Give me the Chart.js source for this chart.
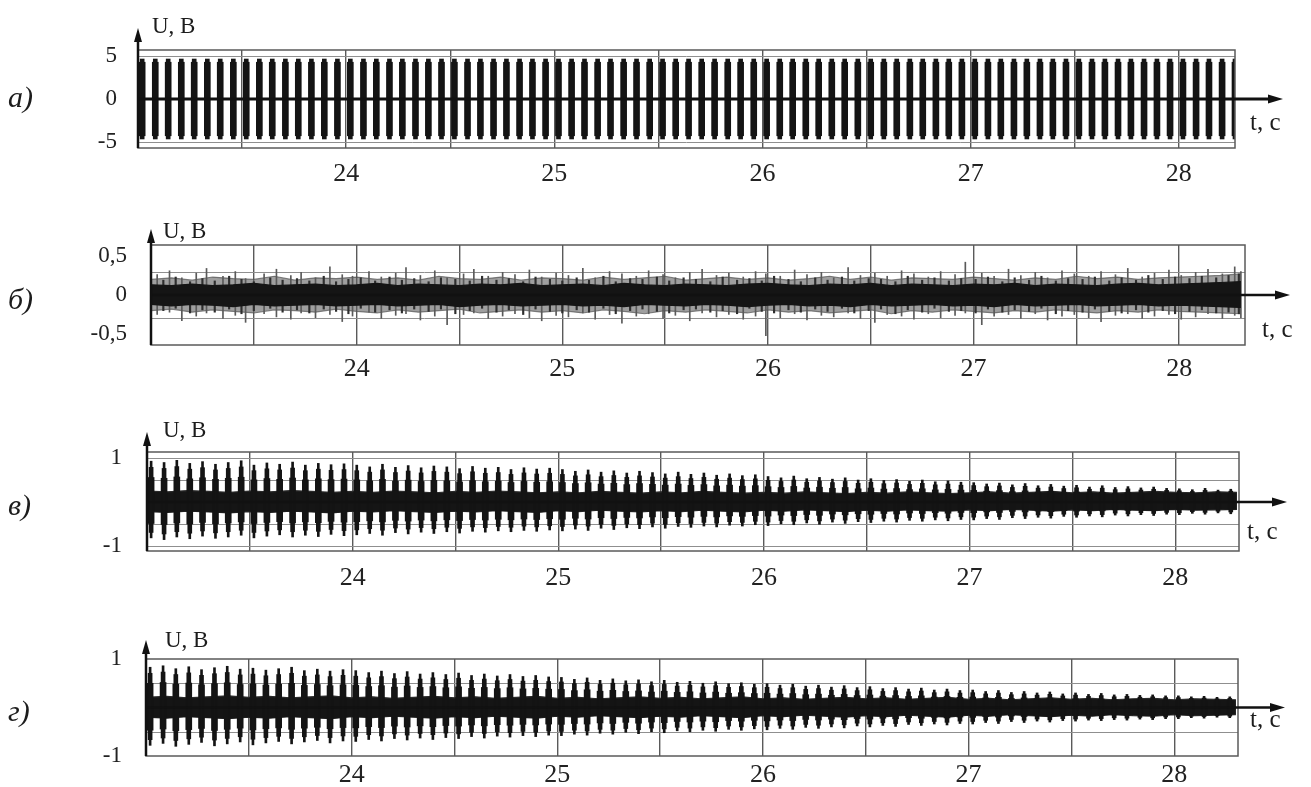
<!DOCTYPE html>
<html><head><meta charset="utf-8">
<script src="https://cdn.jsdelivr.net/npm/chart.js@4.4.1/dist/chart.umd.min.js"></script>
<style>
html,body{margin:0;padding:0;background:#fff;}
body{width:1311px;height:787px;position:relative;overflow:hidden;}
canvas{position:absolute;left:0;}
</style></head><body>
<canvas id="ca" width="1311" height="200" style="top:0px"></canvas>
<canvas id="cb" width="1311" height="200" style="top:200px"></canvas>
<canvas id="cc" width="1311" height="200" style="top:400px"></canvas>
<canvas id="cd" width="1311" height="187" style="top:600px"></canvas>
<script>
// ---------- text / ticks ----------
const xTickLabels = [24, 25, 26, 27, 28];
const xGridT = [23, 23.5, 24, 24.5, 25, 25.5, 26, 26.5, 27, 27.5, 28];
const panelLetters = ['а)', 'б)', 'в)', 'г)'];
const axisUnitY = 'U, B';
const axisUnitX = 't, c';
const yTicksA = [-5, 0, 5];     const gridYA = [-5, 5];
const yTicksB = [-0.5, 0, 0.5]; const gridYB = [-0.3, 0.3];
const yTicksC = [-1, 1];        const gridYC = [-1, -0.5, 0.5, 1];
const yTicksD = [-1, 1];        const gridYD = [-0.5, 0.5];

// ---------- burst times (s) ----------
const burstT = [
23.020,23.083,23.145,23.208,23.270,23.333,23.395,23.458,23.520,23.583,23.645,23.708,23.770,23.833,23.895,23.958,
24.020,24.083,24.145,24.208,24.270,24.333,24.395,24.458,24.520,24.583,24.645,24.708,24.770,24.833,24.895,24.958,
25.020,25.083,25.145,25.208,25.270,25.333,25.395,25.458,25.520,25.583,25.645,25.708,25.770,25.833,25.895,25.958,
26.020,26.083,26.145,26.208,26.270,26.333,26.395,26.458,26.520,26.583,26.645,26.708,26.770,26.833,26.895,26.958,
27.020,27.083,27.145,27.208,27.270,27.333,27.395,27.458,27.520,27.583,27.645,27.708,27.770,27.833,27.895,27.958,
28.020,28.083,28.145,28.208,28.270];

// panel a: burst amplitude (V)
const ampA = [
4.65,4.65,4.65,4.65,4.65,4.65,4.65,4.65,4.65,4.65,4.65,4.65,4.65,4.65,4.65,4.65,
4.65,4.65,4.65,4.65,4.65,4.65,4.65,4.65,4.65,4.65,4.65,4.65,4.65,4.65,4.65,4.65,
4.65,4.65,4.65,4.65,4.65,4.65,4.65,4.65,4.65,4.65,4.65,4.65,4.65,4.65,4.65,4.65,
4.65,4.65,4.65,4.65,4.65,4.65,4.65,4.65,4.65,4.65,4.65,4.65,4.65,4.65,4.65,4.65,
4.65,4.65,4.65,4.65,4.65,4.65,4.65,4.65,4.65,4.65,4.65,4.65,4.65,4.65,4.65,4.65,
4.65,4.65,4.65,4.65,4.65];

// panel c: burst max / min (V)
const hiC = [
0.93,0.90,0.95,0.88,0.92,0.86,0.90,0.94,0.84,0.89,0.86,0.91,0.84,0.88,0.85,0.87,
0.84,0.80,0.86,0.79,0.83,0.78,0.82,0.80,0.76,0.81,0.77,0.79,0.74,0.78,0.75,0.77,
0.74,0.70,0.73,0.68,0.71,0.66,0.70,0.67,0.64,0.68,0.63,0.66,0.61,0.64,0.60,0.62,
0.58,0.55,0.59,0.53,0.56,0.52,0.55,0.50,0.53,0.49,0.51,0.47,0.50,0.46,0.48,0.45,
0.44,0.41,0.43,0.39,0.42,0.37,0.40,0.36,0.38,0.34,0.37,0.33,0.35,0.32,0.34,0.31,
0.30,0.28,0.31,0.27,0.29];
const loC = [
-0.82,-0.86,-0.80,-0.84,-0.78,-0.83,-0.80,-0.76,-0.82,-0.78,-0.75,-0.80,-0.76,-0.79,-0.74,-0.77,
-0.75,-0.72,-0.76,-0.70,-0.73,-0.69,-0.72,-0.68,-0.71,-0.67,-0.69,-0.66,-0.68,-0.65,-0.67,-0.64,
-0.66,-0.62,-0.65,-0.60,-0.63,-0.59,-0.61,-0.57,-0.60,-0.56,-0.58,-0.55,-0.57,-0.53,-0.55,-0.52,
-0.54,-0.50,-0.52,-0.48,-0.51,-0.46,-0.49,-0.45,-0.47,-0.44,-0.46,-0.42,-0.44,-0.41,-0.43,-0.40,
-0.41,-0.38,-0.40,-0.36,-0.38,-0.35,-0.37,-0.33,-0.35,-0.32,-0.34,-0.30,-0.32,-0.29,-0.31,-0.28,
-0.29,-0.26,-0.28,-0.25,-0.27];

// panel d: burst max / min (V)
const hiD = [
0.83,0.86,0.80,0.84,0.78,0.82,0.85,0.79,0.81,0.77,0.80,0.83,0.76,0.79,0.75,0.78,
0.76,0.72,0.75,0.70,0.74,0.69,0.72,0.68,0.71,0.66,0.69,0.65,0.68,0.64,0.66,0.63,
0.62,0.58,0.61,0.56,0.59,0.55,0.57,0.53,0.56,0.52,0.54,0.50,0.53,0.49,0.51,0.48,
0.49,0.46,0.48,0.44,0.46,0.42,0.45,0.41,0.43,0.39,0.41,0.38,0.40,0.36,0.38,0.35,
0.36,0.33,0.35,0.31,0.33,0.30,0.32,0.28,0.30,0.27,0.29,0.26,0.27,0.25,0.26,0.24,
0.24,0.22,0.23,0.21,0.22];
const loD = [
-0.78,-0.74,-0.80,-0.76,-0.72,-0.79,-0.75,-0.71,-0.77,-0.73,-0.70,-0.75,-0.71,-0.68,-0.73,-0.69,
-0.70,-0.66,-0.69,-0.64,-0.67,-0.63,-0.66,-0.62,-0.64,-0.60,-0.63,-0.59,-0.61,-0.58,-0.60,-0.57,
-0.58,-0.55,-0.57,-0.53,-0.55,-0.51,-0.54,-0.50,-0.52,-0.48,-0.50,-0.47,-0.49,-0.45,-0.47,-0.44,
-0.46,-0.43,-0.45,-0.41,-0.43,-0.40,-0.42,-0.38,-0.40,-0.37,-0.39,-0.35,-0.37,-0.34,-0.36,-0.33,
-0.34,-0.31,-0.33,-0.29,-0.31,-0.28,-0.30,-0.27,-0.28,-0.26,-0.27,-0.25,-0.26,-0.24,-0.25,-0.23,
-0.23,-0.21,-0.22,-0.20,-0.21];

// ---------- noise envelopes, every 0.1 s ----------
const envT = [
23.0,23.1,23.2,23.3,23.4,23.5,23.6,23.7,23.8,23.9,
24.0,24.1,24.2,24.3,24.4,24.5,24.6,24.7,24.8,24.9,
25.0,25.1,25.2,25.3,25.4,25.5,25.6,25.7,25.8,25.9,
26.0,26.1,26.2,26.3,26.4,26.5,26.6,26.7,26.8,26.9,
27.0,27.1,27.2,27.3,27.4,27.5,27.6,27.7,27.8,27.9,
28.0,28.1,28.2,28.3];
const coreUpB = [
0.13,0.12,0.14,0.12,0.13,0.15,0.12,0.13,0.14,0.12,
0.13,0.15,0.12,0.14,0.13,0.12,0.14,0.13,0.15,0.12,
0.13,0.14,0.12,0.15,0.13,0.12,0.14,0.13,0.12,0.14,
0.15,0.13,0.12,0.14,0.13,0.15,0.12,0.14,0.13,0.12,
0.14,0.13,0.15,0.12,0.14,0.13,0.12,0.14,0.15,0.13,
0.14,0.15,0.16,0.17];
const coreDnB = [
-0.12,-0.14,-0.12,-0.13,-0.15,-0.12,-0.14,-0.13,-0.12,-0.14,
-0.13,-0.12,-0.14,-0.13,-0.12,-0.15,-0.13,-0.12,-0.14,-0.13,
-0.12,-0.14,-0.13,-0.15,-0.12,-0.13,-0.14,-0.12,-0.13,-0.15,
-0.13,-0.12,-0.14,-0.13,-0.15,-0.12,-0.14,-0.13,-0.12,-0.14,
-0.13,-0.15,-0.12,-0.14,-0.13,-0.12,-0.14,-0.13,-0.12,-0.14,
-0.13,-0.14,-0.15,-0.16];
const fringeUpB = [
0.20,0.22,0.19,0.23,0.21,0.20,0.24,0.19,0.22,0.21,
0.23,0.20,0.22,0.19,0.24,0.21,0.20,0.23,0.19,0.22,
0.21,0.19,0.23,0.20,0.22,0.24,0.19,0.21,0.23,0.20,
0.22,0.19,0.21,0.24,0.20,0.23,0.19,0.22,0.21,0.20,
0.23,0.21,0.19,0.22,0.20,0.24,0.21,0.23,0.20,0.22,
0.23,0.24,0.25,0.27];
const fringeDnB = [
-0.20,-0.18,-0.22,-0.19,-0.21,-0.23,-0.19,-0.20,-0.22,-0.18,
-0.21,-0.23,-0.19,-0.22,-0.20,-0.18,-0.23,-0.21,-0.19,-0.22,
-0.20,-0.23,-0.19,-0.21,-0.24,-0.20,-0.22,-0.19,-0.21,-0.23,
-0.19,-0.22,-0.20,-0.23,-0.21,-0.19,-0.24,-0.20,-0.22,-0.19,
-0.21,-0.23,-0.20,-0.22,-0.19,-0.21,-0.23,-0.20,-0.22,-0.19,
-0.21,-0.22,-0.23,-0.24];
const coreUpC = [
0.25,0.23,0.26,0.24,0.22,0.25,0.23,0.26,0.24,0.22,
0.24,0.22,0.25,0.23,0.21,0.24,0.22,0.25,0.23,0.21,
0.23,0.21,0.24,0.22,0.20,0.23,0.21,0.24,0.22,0.20,
0.22,0.20,0.23,0.21,0.19,0.22,0.20,0.23,0.21,0.19,
0.21,0.23,0.20,0.22,0.24,0.21,0.23,0.20,0.22,0.24,
0.22,0.21,0.23,0.22];
const coreDnC = [
-0.22,-0.24,-0.21,-0.23,-0.25,-0.22,-0.24,-0.21,-0.23,-0.25,
-0.21,-0.23,-0.20,-0.22,-0.24,-0.21,-0.23,-0.20,-0.22,-0.24,
-0.20,-0.22,-0.19,-0.21,-0.23,-0.20,-0.22,-0.19,-0.21,-0.23,
-0.19,-0.21,-0.18,-0.20,-0.22,-0.19,-0.21,-0.18,-0.20,-0.21,
-0.18,-0.20,-0.17,-0.19,-0.21,-0.18,-0.20,-0.17,-0.19,-0.20,
-0.17,-0.19,-0.18,-0.17];
const coreUpD = [
0.21,0.23,0.20,0.22,0.24,0.21,0.23,0.20,0.22,0.24,
0.20,0.22,0.19,0.21,0.23,0.20,0.22,0.19,0.21,0.23,
0.19,0.21,0.18,0.20,0.22,0.19,0.21,0.18,0.20,0.22,
0.18,0.20,0.17,0.19,0.21,0.18,0.20,0.17,0.19,0.21,
0.17,0.19,0.16,0.18,0.20,0.17,0.19,0.16,0.18,0.19,
0.16,0.18,0.17,0.16];
const coreDnD = [
-0.20,-0.22,-0.19,-0.21,-0.23,-0.20,-0.22,-0.19,-0.21,-0.23,
-0.19,-0.21,-0.18,-0.20,-0.22,-0.19,-0.21,-0.18,-0.20,-0.22,
-0.18,-0.20,-0.17,-0.19,-0.21,-0.18,-0.20,-0.17,-0.19,-0.21,
-0.17,-0.19,-0.16,-0.18,-0.20,-0.17,-0.19,-0.16,-0.18,-0.20,
-0.16,-0.18,-0.15,-0.17,-0.19,-0.16,-0.18,-0.15,-0.17,-0.18,
-0.15,-0.17,-0.16,-0.15];

// ---------- panel b: noise spikes ----------
const spikeTB = [
23.03,23.09,23.15,23.22,23.27,23.35,23.41,23.46,23.55,23.61,
23.68,23.73,23.80,23.87,23.93,23.98,24.06,24.12,24.19,24.24,
24.31,24.38,24.44,24.52,24.57,24.64,24.71,24.77,24.84,24.90,
24.97,25.03,25.10,25.16,25.23,25.29,25.36,25.42,25.49,25.55,
25.62,25.68,25.75,25.81,25.88,25.94,25.99,26.06,26.13,26.19,
26.26,26.32,26.39,26.45,26.52,26.58,26.65,26.71,26.78,26.84,
26.91,26.96,27.04,27.10,27.17,27.23,27.30,27.36,27.43,27.49,
27.56,27.62,27.69,27.75,27.82,27.88,27.95,28.01,28.08,28.14,
28.21,28.27,28.30];
const spikeHiB = [
0.26,0.31,0.22,0.28,0.34,0.24,0.30,0.21,0.27,0.33,
0.25,0.29,0.22,0.36,0.26,0.24,0.30,0.23,0.28,0.35,
0.25,0.31,0.22,0.27,0.33,0.24,0.29,0.26,0.32,0.23,
0.28,0.25,0.34,0.22,0.30,0.27,0.24,0.31,0.26,0.22,
0.29,0.33,0.25,0.28,0.23,0.30,0.27,0.24,0.32,0.26,
0.29,0.22,0.35,0.25,0.28,0.24,0.31,0.27,0.23,0.30,
0.26,0.42,0.28,0.24,0.33,0.25,0.29,0.22,0.31,0.27,
0.24,0.30,0.26,0.34,0.23,0.28,0.32,0.25,0.29,0.33,
0.27,0.36,0.30];
const spikeLoB = [
-0.25,-0.22,-0.33,-0.27,-0.23,-0.30,-0.26,-0.35,-0.24,-0.28,
-0.31,-0.23,-0.29,-0.25,-0.34,-0.27,-0.22,-0.30,-0.26,-0.24,
-0.32,-0.27,-0.38,-0.25,-0.23,-0.30,-0.27,-0.24,-0.29,-0.33,
-0.26,-0.28,-0.23,-0.31,-0.25,-0.36,-0.27,-0.24,-0.30,-0.26,
-0.33,-0.23,-0.28,-0.25,-0.31,-0.27,-0.52,-0.29,-0.24,-0.32,
-0.26,-0.28,-0.23,-0.30,-0.35,-0.25,-0.27,-0.31,-0.24,-0.29,
-0.26,-0.23,-0.38,-0.27,-0.25,-0.30,-0.24,-0.32,-0.27,-0.25,
-0.29,-0.34,-0.26,-0.24,-0.30,-0.27,-0.25,-0.31,-0.28,-0.24,
-0.30,-0.26,-0.29];
const spikeT2B = [
23.06,23.12,23.19,23.25,23.31,23.38,23.44,23.50,23.58,23.64,
23.71,23.77,23.84,23.90,23.96,24.02,24.09,24.16,24.22,24.28,
24.35,24.41,24.48,24.55,24.61,24.68,24.74,24.81,24.87,24.94,
25.00,25.07,25.13,25.20,25.26,25.33,25.39,25.46,25.52,25.59,
25.65,25.72,25.78,25.85,25.91,25.97,26.03,26.10,26.16,26.23,
26.29,26.36,26.42,26.49,26.55,26.62,26.68,26.75,26.81,26.88,
26.94,27.01,27.07,27.14,27.20,27.27,27.33,27.40,27.46,27.53,
27.59,27.66,27.72,27.79,27.85,27.92,27.98,28.05,28.11,28.18,
28.24,28.29];
const spikeHi2B = [
0.19,0.23,0.17,0.21,0.18,0.24,0.20,0.17,0.22,0.19,
0.21,0.18,0.24,0.17,0.20,0.22,0.18,0.23,0.19,0.21,
0.17,0.22,0.20,0.18,0.24,0.19,0.21,0.17,0.23,0.20,
0.18,0.22,0.19,0.24,0.17,0.21,0.20,0.23,0.18,0.22,
0.20,0.17,0.23,0.19,0.21,0.18,0.24,0.20,0.17,0.22,
0.19,0.23,0.18,0.21,0.20,0.17,0.24,0.19,0.22,0.18,
0.21,0.20,0.23,0.17,0.22,0.19,0.24,0.18,0.21,0.20,
0.23,0.18,0.22,0.19,0.25,0.20,0.23,0.21,0.24,0.22,
0.25,0.27];
const spikeLo2B = [
-0.20,-0.17,-0.23,-0.19,-0.22,-0.18,-0.24,-0.20,-0.17,-0.22,
-0.19,-0.23,-0.18,-0.21,-0.24,-0.17,-0.22,-0.19,-0.23,-0.18,
-0.21,-0.18,-0.24,-0.20,-0.17,-0.22,-0.19,-0.25,-0.18,-0.21,
-0.23,-0.19,-0.22,-0.17,-0.24,-0.20,-0.18,-0.21,-0.23,-0.19,
-0.18,-0.22,-0.20,-0.24,-0.17,-0.21,-0.23,-0.19,-0.22,-0.18,
-0.21,-0.17,-0.23,-0.20,-0.18,-0.24,-0.19,-0.22,-0.17,-0.21,
-0.20,-0.23,-0.18,-0.22,-0.19,-0.21,-0.17,-0.24,-0.20,-0.22,
-0.18,-0.21,-0.23,-0.19,-0.22,-0.20,-0.24,-0.21,-0.19,-0.23,
-0.22,-0.24];

// ---------- layout (pixels, absolute page coords) ----------
const P = {
  a: {oy:0,   H:200, L:138, R:1235, T:50,  B:148, yMin:-5.7,  yMax:5.7,  xMax:28.27, yTicks:yTicksA, gridY:gridYA,
      arrowX:1283, arrowTop:28,  ubX:152, ubY:33,  tcX:1250, tcY:130, lX:8, lY:107, letter:panelLetters[0], ytPad:13, xtPad:11, zeroW:3},
  b: {oy:200, H:200, L:151, R:1245, T:245, B:345, yMin:-0.64, yMax:0.64, xMax:28.32, yTicks:yTicksB, gridY:gridYB,
      arrowX:1290, arrowTop:229, ubX:163, ubY:238, tcX:1262, tcY:337, lX:8, lY:309, letter:panelLetters[1], ytPad:16, xtPad:9, zeroW:2.5},
  c: {oy:400, H:200, L:147, R:1239, T:452, B:551, yMin:-1.12, yMax:1.14, xMax:28.31, yTicks:yTicksC, gridY:gridYC,
      arrowX:1287, arrowTop:432, ubX:163, ubY:437, tcX:1247, tcY:539, lX:8, lY:515, letter:panelLetters[2], ytPad:17, xtPad:12, zeroW:2.5},
  d: {oy:600, H:187, L:146, R:1238, T:659, B:756, yMin:-1,    yMax:1,    xMax:28.31, yTicks:yTicksD, gridY:gridYD,
      arrowX:1285, arrowTop:640, ubX:165, ubY:647, tcX:1250, tcY:727, lX:8, lY:721, letter:panelLetters[3], ytPad:16, xtPad:4, zeroW:2.5}
};

const SERIF = "'Liberation Serif', 'Times New Roman', serif";

function burstLayers(hi, lo, widths, scales, color) {
  return widths.map((w, k) => ({
    type: 'bar',
    data: burstT.map((t, i) => ({x: t, y: [lo[i] * scales[k], hi[i] * scales[k]]})),
    barThickness: w, backgroundColor: color, borderWidth: 0, grouped: false, order: 1 + k
  }));
}
function band(up, dn, fill, line, order) {
  return [
    {type:'line', data: envT.map((t,i)=>({x:t, y:up[i]})), borderColor: line, borderWidth: 1.2,
     pointRadius: 0, fill: '+1', backgroundColor: fill, order},
    {type:'line', data: envT.map((t,i)=>({x:t, y:dn[i]})), borderColor: line, borderWidth: 1.2,
     pointRadius: 0, fill: false, order}
  ];
}
function spikes(ts, lo, hi, color, w, order) {
  return {type:'bar', data: ts.map((t,i)=>({x:t, y:[lo[i], hi[i]]})), barThickness: w,
          backgroundColor: color, borderWidth: 0, grouped: false, order};
}

function deco(p) {
  return {
    id: 'deco',
    beforeDatasetsDraw(chart) {
      const {ctx, chartArea: a, scales: {y}} = chart;
      ctx.save();
      ctx.strokeStyle = '#8f8f8f'; ctx.lineWidth = 1;
      p.gridY.forEach(v => {
        const py = Math.round(y.getPixelForValue(v)) + 0.5;
        ctx.beginPath(); ctx.moveTo(a.left, py); ctx.lineTo(a.right, py); ctx.stroke();
      });
      ctx.restore();
    },
    afterDatasetsDraw(chart) {
      const {ctx, chartArea: a, scales: {y}} = chart;
      ctx.save();
      ctx.strokeStyle = '#5a5a5a'; ctx.lineWidth = 1.5;
      ctx.strokeRect(a.left, a.top, a.right - a.left, a.bottom - a.top);
      ctx.strokeStyle = '#111'; ctx.fillStyle = '#111';
      const y0 = y.getPixelForValue(0);
      const ax = p.arrowX;
      ctx.lineWidth = p.zeroW;
      ctx.beginPath(); ctx.moveTo(a.left, y0); ctx.lineTo(ax - 8, y0); ctx.stroke();
      ctx.beginPath(); ctx.moveTo(ax, y0); ctx.lineTo(ax - 15, y0 - 4.5); ctx.lineTo(ax - 15, y0 + 4.5); ctx.closePath(); ctx.fill();
      const at = p.arrowTop - p.oy;
      ctx.lineWidth = 2.5;
      ctx.beginPath(); ctx.moveTo(a.left, a.bottom); ctx.lineTo(a.left, at + 8); ctx.stroke();
      ctx.beginPath(); ctx.moveTo(a.left, at); ctx.lineTo(a.left - 4, at + 14); ctx.lineTo(a.left + 4, at + 14); ctx.closePath(); ctx.fill();
      ctx.fillStyle = '#1c1c1c'; ctx.textBaseline = 'alphabetic'; ctx.textAlign = 'left';
      ctx.font = '23px ' + SERIF; ctx.fillText(axisUnitY, p.ubX, p.ubY - p.oy);
      ctx.font = '25px ' + SERIF; ctx.fillText(axisUnitX, p.tcX, p.tcY - p.oy);
      ctx.font = 'italic 30px ' + SERIF; ctx.fillText(p.letter, p.lX, p.lY - p.oy);
      ctx.restore();
    }
  };
}

function makeChart(id, p, datasets) {
  return new Chart(document.getElementById(id), {
    type: 'bar',
    data: {datasets},
    options: {
      responsive: false, animation: false, devicePixelRatio: 1, events: [],
      layout: {padding: {left: 0, top: p.T - p.oy, right: 1311 - p.R, bottom: 0}},
      plugins: {legend: {display: false}, tooltip: {enabled: false}},
      scales: {
        x: {
          type: 'linear', min: 23, max: p.xMax, offset: false,
          grid: {offset: false, color: '#5a5a5a', lineWidth: 1.4, drawTicks: false},
          border: {display: false},
          afterBuildTicks: s => { s.ticks = xGridT.map(v => ({value: v})); },
          ticks: {autoSkip: false, maxRotation: 0, padding: p.xtPad, color: '#222',
                  font: {family: SERIF, size: 26},
                  callback: v => xTickLabels.includes(v) ? String(v) : ''},
          afterFit: s => { s.height = p.oy + p.H - p.B; }
        },
        y: {
          type: 'linear', min: p.yMin, max: p.yMax,
          grid: {display: false}, border: {display: false},
          afterBuildTicks: s => { s.ticks = p.yTicks.map(v => ({value: v})); },
          ticks: {padding: p.ytPad, color: '#222', font: {family: SERIF, size: 23},
                  callback: v => String(v).replace('.', ',')},
          afterFit: s => { s.width = p.L; }
        }
      }
    },
    plugins: [deco(p)]
  });
}

// panel a
makeChart('ca', P.a, [
  ...burstLayers(ampA, ampA.map(v => -v), [4, 6], [1.0, 0.92], '#141414')
]);
// panel b
makeChart('cb', P.b, [
  ...band(fringeUpB, fringeDnB, 'rgba(95,95,95,0.6)', 'rgba(80,80,80,0.7)', 7),
  spikes(spikeTB, spikeLoB, spikeHiB, '#5a5a5a', 1, 6),
  spikes(spikeT2B, spikeLo2B, spikeHi2B, '#2e2e2e', 1.5, 5),
  ...band(coreUpB, coreDnB, '#151515', '#151515', 4)
]);
// panel c
makeChart('cc', P.c, [
  ...band(coreUpC, coreDnC, '#151515', '#2a2a2a', 6),
  ...burstLayers(hiC, loC, [2, 4, 6], [1.0, 0.85, 0.6], '#141414')
]);
// panel d
makeChart('cd', P.d, [
  ...band(coreUpD, coreDnD, '#151515', '#2a2a2a', 6),
  ...burstLayers(hiD, loD, [2, 4, 6], [1.0, 0.85, 0.6], '#141414')
]);
</script>
</body></html>
